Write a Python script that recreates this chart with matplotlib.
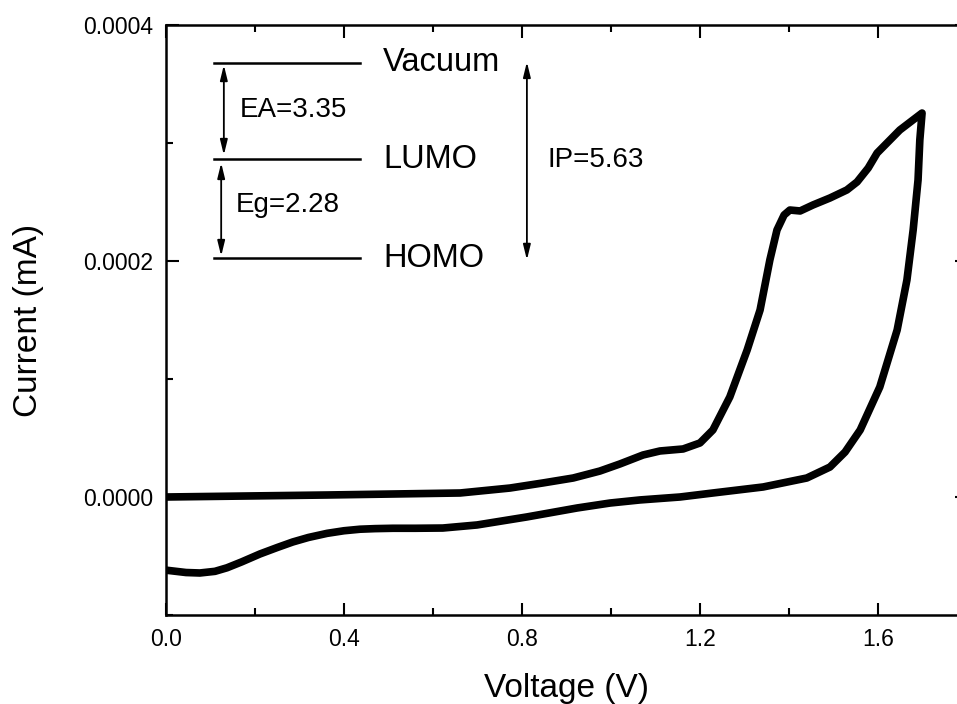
import matplotlib.pyplot as plt
from matplotlib.ticker import MultipleLocator, FormatStrFormatter

plt.rcParams['font.family'] = ['Liberation Sans', 'DejaVu Sans']

# forward scan (V, mA)
v_fwd = [0.0, 0.362, 0.661, 0.773, 0.847, 0.915, 0.975, 1.020, 1.072, 1.110,
         1.162, 1.200, 1.229, 1.267, 1.306, 1.335, 1.357, 1.373, 1.389, 1.402,
         1.425, 1.454, 1.492, 1.530, 1.553, 1.578, 1.598, 1.649, 1.699]
i_fwd = [0.0, 1.7e-6, 3.4e-6, 7.6e-6, 11.9e-6, 16.1e-6, 22.0e-6, 28.0e-6,
         35.6e-6, 39.0e-6, 40.7e-6, 45.8e-6, 56.8e-6, 84.8e-6, 124.6e-6,
         158.5e-6, 200.9e-6, 226.3e-6, 239.0e-6, 243.2e-6, 242.4e-6, 247.5e-6,
         253.4e-6, 260.2e-6, 267.0e-6, 278.8e-6, 291.5e-6, 311.0e-6, 325.4e-6]

# reverse scan
v_rev = [1.699, 1.694, 1.690, 1.679, 1.665, 1.643, 1.604, 1.560, 1.526, 1.492,
         1.440, 1.342, 1.229, 1.155, 1.065, 0.998, 0.924, 0.811, 0.699, 0.622,
         0.560, 0.510, 0.470, 0.436, 0.400, 0.362, 0.320, 0.285, 0.250, 0.211,
         0.170, 0.137, 0.110, 0.076, 0.045, 0.0]
i_rev = [325.4e-6, 302.6e-6, 268.7e-6, 226.3e-6, 183.9e-6, 141.5e-6, 93.2e-6,
         56.8e-6, 38.1e-6, 25.4e-6, 16.1e-6, 8.5e-6, 3.4e-6, 0.0, -2.5e-6,
         -5.1e-6, -9.3e-6, -16.9e-6, -23.7e-6, -26.3e-6, -26.5e-6, -26.5e-6,
         -26.8e-6, -27.3e-6, -28.6e-6, -30.8e-6, -34.3e-6, -38.1e-6, -42.8e-6,
         -48.3e-6, -55.0e-6, -60.0e-6, -63.0e-6, -64.4e-6, -64.0e-6, -62.0e-6]

# energy level diagram (drawn in data units of the plot)
level_names = ["Vacuum", "LUMO", "HOMO"]
level_y = [0.0003678, 0.0002864, 0.0002025]
gap_labels = ["EA=3.35", "Eg=2.28", "IP=5.63"]

fig = plt.figure(figsize=(9.57, 7.04), dpi=100)
ax = fig.add_axes([166 / 957, 1 - 615 / 704, (967 - 166) / 957, (615 - 25) / 704])

ax.plot(v_fwd + v_rev, i_fwd + i_rev, color='black', linewidth=5.5,
        solid_joinstyle='round', solid_capstyle='round')

ax.set_xlim(0, 1.8)
ax.set_ylim(-0.0001, 0.0004)
ax.xaxis.set_major_locator(MultipleLocator(0.4))
ax.xaxis.set_minor_locator(MultipleLocator(0.2))
ax.yaxis.set_major_locator(MultipleLocator(0.0002))
ax.yaxis.set_minor_locator(MultipleLocator(0.0001))
ax.xaxis.set_major_formatter(FormatStrFormatter('%.1f'))
ax.yaxis.set_major_formatter(FormatStrFormatter('%.4f'))
ax.tick_params(which='both', direction='in', top=True, right=True, width=1.5,
               labelsize=16.5, pad=9)
ax.tick_params(which='major', length=9)
ax.tick_params(which='minor', length=5)
for s in ax.spines.values():
    s.set_linewidth(1.8)

ax.set_xlabel("Voltage (V)", fontsize=24, labelpad=16)
ax.set_ylabel("Current (mA)", fontsize=24, labelpad=28)

# levels
for name, y in zip(level_names, level_y):
    ax.plot([0.108, 0.436], [y, y], color='black', linewidth=1.8)
    ax.text(0.488, y, name, fontsize=23.5, va='center', ha='left')

arrow = dict(arrowstyle='<|-|>,head_length=0.9,head_width=0.22', color='black',
             lw=1.3, shrinkA=0, shrinkB=0)
ax.annotate("", xy=(0.130, 0.0003661), xytext=(0.130, 0.0002898), arrowprops=arrow)
ax.annotate("", xy=(0.124, 0.0002831), xytext=(0.124, 0.0002042), arrowprops=arrow)
ax.annotate("", xy=(0.811, 0.0003687), xytext=(0.811, 0.0002009), arrowprops=arrow)
ax.text(0.166, 0.000328, gap_labels[0], fontsize=20, va='center', ha='left')
ax.text(0.157, 0.0002475, gap_labels[1], fontsize=20, va='center', ha='left')
ax.text(0.858, 0.0002856, gap_labels[2], fontsize=20, va='center', ha='left')

fig.savefig("out.png", dpi=100)
